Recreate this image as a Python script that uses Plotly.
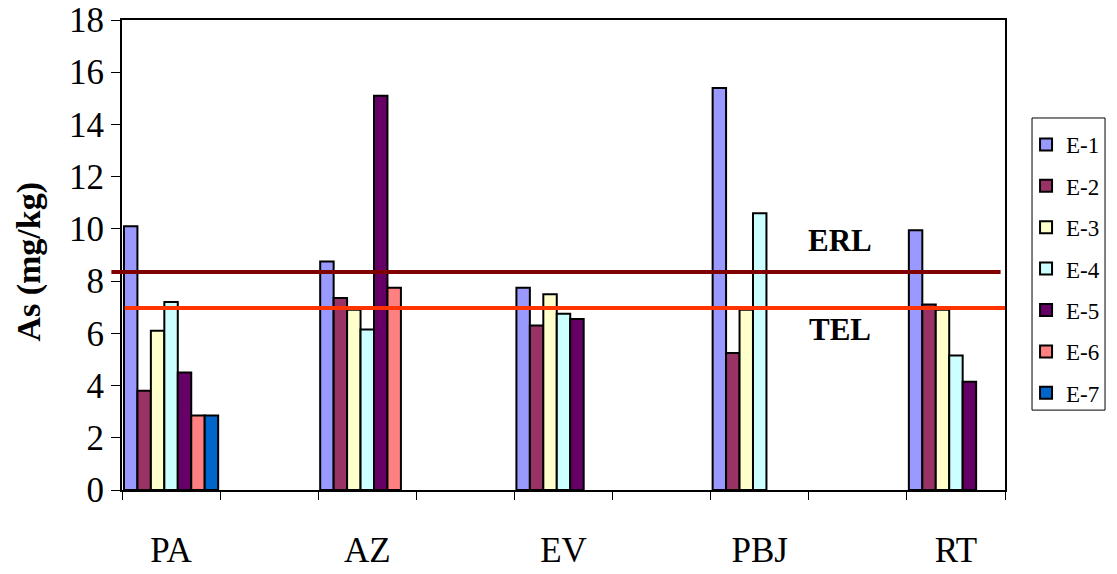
import plotly.graph_objects as go

categories = ["PA", "", "AZ", "", "EV", "", "PBJ", "", "RT"]
series_names = ["E-1", "E-2", "E-3", "E-4", "E-5", "E-6", "E-7"]
E1 = [10.1, None, 8.75, None, 7.75, None, 15.4, None, 9.95]
E2 = [3.8, None, 7.35, None, 6.3, None, 5.25, None, 7.1]
E3 = [6.1, None, 6.9, None, 7.5, None, 6.9, None, 6.9]
E4 = [7.2, None, 6.15, None, 6.75, None, 10.6, None, 5.15]
E5 = [4.5, None, 15.1, None, 6.55, None, None, None, 4.15]
E6 = [2.85, None, 7.75, None, None, None, None, None, None]
E7 = [2.85, None, None, None, None, None, None, None, None]
values = [E1, E2, E3, E4, E5, E6, E7]
ERL = 8.35
TEL = 6.97

colors = ["#9999FF", "#993366", "#FFFFCC", "#CCFFFF", "#660066", "#FF8080", "#0066CC"]
serif = "Liberation Serif, Times New Roman, serif"

fig = go.Figure()
xs = list(range(len(categories)))
for i, (name, vals) in enumerate(zip(series_names, values)):
    fig.add_trace(go.Bar(
        x=xs, y=vals, name=name, legendgroup=name,
        marker=dict(color=colors[i], line=dict(color="black", width=2)),
    ))

fig.add_shape(type="line", xref="paper", yref="y", x0=-0.012, x1=0.995, y0=ERL, y1=ERL,
              line=dict(color="#800000", width=4))
fig.add_shape(type="line", xref="paper", yref="y", x0=0.003, x1=1.0, y0=TEL, y1=TEL,
              line=dict(color="#FF3300", width=4))
fig.add_annotation(x=0.813, xref="paper", xanchor="center", y=ERL, yref="y", yshift=31,
                   text="<b>ERL</b>", showarrow=False,
                   font=dict(family=serif, size=31, color="black"))
fig.add_annotation(x=0.813, xref="paper", xanchor="center", y=TEL, yref="y", yshift=-21,
                   text="<b>TEL</b>", showarrow=False,
                   font=dict(family=serif, size=31, color="black"))
# y-axis title
fig.add_annotation(x=-0.1053, xref="paper", xanchor="center", y=0.486, yref="paper",
                   yanchor="middle", text="<b>As (mg/kg)</b>", textangle=-90, showarrow=False,
                   font=dict(family=serif, size=34, color="black"))
# legend frame
fig.add_shape(type="rect", xref="paper", yref="paper", x0=1.0306, x1=1.1133,
              y0=0.170, y1=0.7915, line=dict(color="black", width=1), fillcolor="rgba(0,0,0,0)")

fig.update_layout(
    width=1117, height=574,
    margin=dict(l=122, r=112, t=20, b=84),
    paper_bgcolor="white", plot_bgcolor="white",
    barmode="group", bargap=0.04, bargroupgap=0,
    font=dict(family=serif, color="black"),
    legend=dict(x=1.1133, y=0.781, xanchor="right", yanchor="top",
                borderwidth=0, bgcolor="rgba(0,0,0,0)",
                font=dict(family=serif, size=23), tracegroupgap=8.5,
                itemwidth=30),
    showlegend=True,
)
fig.update_xaxes(
    range=[-0.5, 8.5], tickmode="array", tickvals=[0, 2, 4, 6, 8],
    ticktext=["PA", "AZ", "EV", "PBJ", "RT"], ticks="", ticklabelstandoff=28,
    tickfont=dict(family=serif, size=35), automargin=False,
    showline=True, linecolor="black", linewidth=2, mirror=True,
    showgrid=False, zeroline=False,
    minor=dict(tickmode="array", tickvals=[x - 0.5 for x in range(10)], ticks="outside",
               ticklen=8, tickcolor="black", tickwidth=1),
)
fig.update_yaxes(
    range=[0, 18], dtick=2, ticks="outside", ticklen=9, tickcolor="black", tickwidth=1,
    tickfont=dict(family=serif, size=35), automargin=False,
    showline=True, linecolor="black", linewidth=2, mirror=True,
    showgrid=False, zeroline=False,
)

fig.write_html("out.html")
